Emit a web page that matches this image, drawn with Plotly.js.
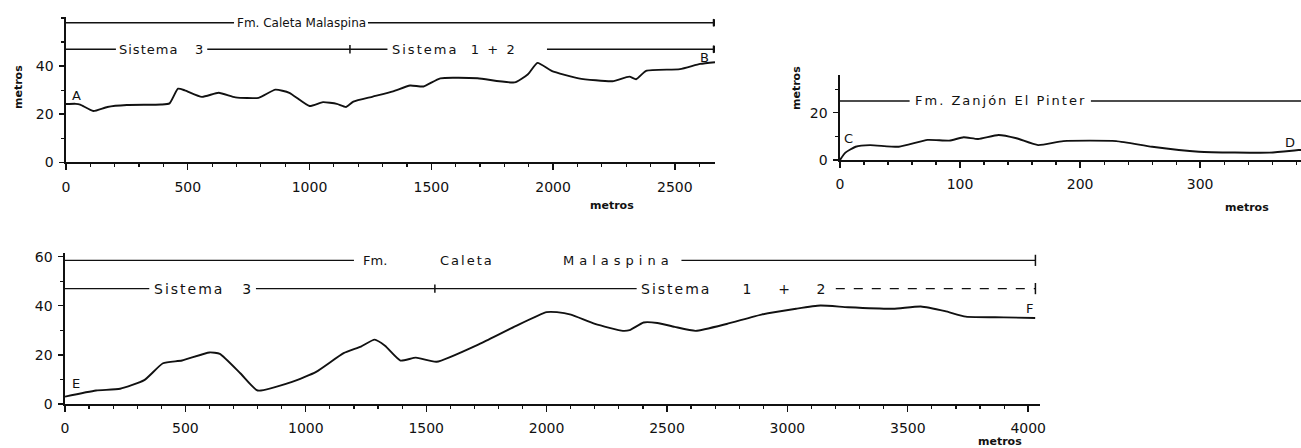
<!DOCTYPE html>
<html>
<head>
<meta charset="utf-8">
<script src="https://cdn.plot.ly/plotly-3.0.1.min.js"></script>
<style>
  html, body { margin: 0; padding: 0; background: #fff; }
  #chart { width: 1301px; height: 448px; }
</style>
</head>
<body>
<div id="chart"></div>
<script>
// ---------- Profile A-B (Fm. Caleta Malaspina) ----------
const abX = [0, 40, 58, 112, 170, 250, 390, 425, 460, 488, 558, 627, 696, 791, 860, 917, 1000, 1055, 1112, 1150, 1180, 1260, 1343, 1413, 1468, 1537, 1690, 1842, 1897, 1936, 1994, 2105, 2244, 2313, 2341, 2382, 2521, 2604, 2665];
const abY = [24.2, 24.3, 24, 21.3, 23, 23.8, 24, 24.5, 30.6, 29.9, 27.2, 28.9, 27, 26.8, 30.2, 28.9, 23.4, 25, 24.3, 23, 25.2, 27.3, 29.5, 31.9, 31.5, 34.9, 34.9, 33.2, 36.6, 41.3, 38, 34.9, 33.7, 35.6, 34.5, 38, 38.7, 40.9, 41.6];
const abFmLevel = 58;
const abFmX = [0, 690, null, 1240, 2665];
const abSisLevel = 47;
const abSisX = [0, 205, null, 580, 1320, null, 1975, 2665];
const abSisBoundary = 1166;
const abXTicks = [0, 500, 1000, 1500, 2000, 2500];
const abYTicks = [0, 20, 40];

// ---------- Profile C-D (Fm. Zanjón El Pinter) ----------
const cdX = [0, 4.5, 13, 25, 49, 73, 91, 103, 115, 132, 147, 165, 186, 230, 260, 299, 358, 382, 386];
const cdY = [0, 3.1, 5.6, 6.3, 5.6, 8.5, 8.2, 9.6, 8.9, 10.6, 9.2, 6.3, 8, 8, 5.6, 3.5, 3.1, 4.2, 4.3];
const cdFmLevel = 25;
const cdFmX = [0, 58, null, 209, 386];
const cdXTicks = [0, 100, 200, 300];
const cdYTicks = [0, 20];

// ---------- Profile E-F (Fm. Caleta Malaspina) ----------
const efX = [0, 129, 229, 329, 407, 486, 600, 643, 729, 800, 943, 1043, 1157, 1229, 1286, 1329, 1393, 1457, 1543, 1729, 1871, 2000, 2043, 2101, 2201, 2317, 2345, 2403, 2460, 2532, 2619, 2748, 2892, 3036, 3137, 3252, 3439, 3554, 3655, 3741, 3899, 4029];
const efY = [3, 5.5, 6.2, 9.7, 16.6, 17.7, 21, 20.4, 12.4, 5.5, 9, 13.1, 20.7, 23.4, 26.2, 23.7, 17.7, 18.9, 17.2, 24.8, 31.7, 37.4, 37.4, 36.4, 32.6, 29.8, 30.1, 33.2, 33, 31.4, 29.8, 32.6, 36.4, 38.8, 40.1, 39.4, 38.8, 39.7, 37.8, 35.6, 35.3, 35];
const efFmLevel = 58.5;
const efFmX = [0, 1200, null, 2560, 4030];
const efSisLevel = 47;
const efSisX = [0, 350, null, 793, 2374];
const efSisDashX = [3201, 4030];
const efSisBoundary = 1536;
const efXTicks = [0, 500, 1000, 1500, 2000, 2500, 3000, 3500, 4000];
const efYTicks = [0, 20, 40, 60];

const INK = '#111111';
const FONT = 'DejaVu Sans, Liberation Sans, sans-serif';

function level(xs, lv) { return xs.map(v => v === null ? null : lv); }

function bandTrace(xs, lv, xa, ya, dash) {
  return { x: xs, y: level(xs, lv), xaxis: xa, yaxis: ya, mode: 'lines',
           line: { color: INK, width: 1.4, dash: dash || 'solid' }, hoverinfo: 'skip', showlegend: false };
}
function profileTrace(xs, ys, xa, ya) {
  return { x: xs, y: ys, xaxis: xa, yaxis: ya, mode: 'lines',
           line: { color: INK, width: 1.9, shape: 'spline', smoothing: 0.5 }, hoverinfo: 'skip', showlegend: false };
}
function markTrace(xs, ys, xa, ya, symbol, size) {
  return { x: xs, y: ys, xaxis: xa, yaxis: ya, mode: 'markers',
           marker: { symbol: symbol, size: size, color: INK, line: { color: INK, width: 1.5 } },
           hoverinfo: 'skip', showlegend: false };
}

const traces = [
  profileTrace(abX, abY, 'x', 'y'),
  bandTrace(abFmX, abFmLevel, 'x', 'y'),
  bandTrace(abSisX, abSisLevel, 'x', 'y'),
  markTrace([abSisBoundary], [abSisLevel], 'x', 'y', 'line-ns', 6),
  markTrace([abFmX[abFmX.length - 1], abSisX[abSisX.length - 1]], [abFmLevel, abSisLevel], 'x', 'y', 'triangle-right', 6),

  profileTrace(cdX, cdY, 'x2', 'y2'),
  bandTrace(cdFmX, cdFmLevel, 'x2', 'y2'),

  profileTrace(efX, efY, 'x3', 'y3'),
  bandTrace(efFmX, efFmLevel, 'x3', 'y3'),
  bandTrace(efSisX, efSisLevel, 'x3', 'y3'),
  bandTrace(efSisDashX, efSisLevel, 'x3', 'y3', 'dash'),
  markTrace([efSisBoundary], [efSisLevel], 'x3', 'y3', 'line-ns', 6),
  markTrace([efFmX[efFmX.length - 1], efSisDashX[1]], [efFmLevel, efSisLevel], 'x3', 'y3', 'line-ns', 8)
];

function xAxis(domain, range, ticks, minor, anchor) {
  return { domain: domain, range: range, tickvals: ticks, ticks: 'outside', ticklen: 6, tickwidth: 1.4,
           tickcolor: INK, showline: true, linecolor: INK, linewidth: 1.6, zeroline: false, showgrid: false,
           ticklabelstandoff: 5, tickfont: { family: FONT, size: 14, color: INK }, anchor: anchor,
           minor: { dtick: minor, tick0: 0, ticks: 'outside', ticklen: 3, tickwidth: 1.2, tickcolor: INK },
           fixedrange: true };
}
function yAxis(domain, range, ticks, anchor) {
  return { domain: domain, range: range, tickvals: ticks, ticks: 'outside', ticklen: 5, tickwidth: 1.4,
           tickcolor: INK, showline: true, linecolor: INK, linewidth: 1.6, zeroline: false, showgrid: false,
           ticklabelstandoff: 3, tickfont: { family: FONT, size: 14, color: INK }, anchor: anchor,
           minor: { dtick: 10, tick0: 0, ticks: 'outside', ticklen: 3, tickwidth: 1.2, tickcolor: INK },
           fixedrange: true };
}

function dataText(text, x, y, xa, ya, size, extra) {
  return Object.assign({ text: text, x: x, y: y, xref: xa, yref: ya, showarrow: false,
           font: { family: FONT, size: size, color: INK }, xanchor: 'center', yanchor: 'middle' }, extra || {});
}
function paperText(text, px, py, size, angle) {
  return { text: text, x: px / 1301, y: 1 - py / 448, xref: 'paper', yref: 'paper', showarrow: false,
           font: { family: FONT, size: size, color: INK }, xanchor: 'center', yanchor: 'middle', textangle: angle || 0 };
}
const sp = '\u00a0';
function gap(n) { return sp.repeat(n); }
function ls(t, px) { return '<span style="letter-spacing:' + px + 'px">' + t + '</span>'; }

const annotations = [
  // A-B
  dataText('Fm. Caleta Malaspina', 965, abFmLevel, 'x', 'y', 12),
  dataText(ls('Sistema', 1) + gap(4) + '3', 392, abSisLevel, 'x', 'y', 13),
  dataText(ls('Sistema', 2) + gap(3) + '1' + gap(2) + '+' + gap(2) + '2', 1590, abSisLevel, 'x', 'y', 13),
  dataText('A', 45, 27.8, 'x', 'y', 13),
  dataText('B', 2622, 43.5, 'x', 'y', 13),
  paperText('<b>metros</b>', 18, 87, 11, -90),
  paperText('<b>metros</b>', 612, 205, 11),
  // C-D
  dataText(ls('Fm. Zanjón El Pinter', 2), 134, cdFmLevel, 'x2', 'y2', 13),
  dataText('C', 7, 9.2, 'x2', 'y2', 13),
  dataText('D', 375, 7.5, 'x2', 'y2', 13),
  paperText('<b>metros</b>', 797, 88, 11, -90),
  paperText('<b>metros</b>', 1247, 207, 11),
  // E-F
  dataText('Fm.', 1286, efFmLevel, 'x3', 'y3', 13),
  dataText(ls('Caleta', 2), 1671, efFmLevel, 'x3', 'y3', 13),
  dataText(ls('Malaspina', 5), 2300, efFmLevel, 'x3', 'y3', 13),
  dataText(ls('Sistema', 2) + gap(4) + '3', 571, efSisLevel, 'x3', 'y3', 14),
  dataText(ls('Sistema', 2) + gap(7) + '1' + gap(6) + '+' + gap(6) + '2', 2778, efSisLevel, 'x3', 'y3', 14),
  dataText('E', 46, 8.3, 'x3', 'y3', 13),
  dataText('F', 4005, 39, 'x3', 'y3', 13),
  paperText('<b>metros</b>', 1000, 441, 11)
];

const layout = {
  width: 1301, height: 448, autosize: false,
  margin: { l: 0, r: 0, t: 0, b: 0 },
  paper_bgcolor: '#fff', plot_bgcolor: 'rgba(0,0,0,0)',
  showlegend: false, hovermode: false,
  xaxis: xAxis([66 / 1301, 715 / 1301], [0, 2665], abXTicks, 100, 'y'),
  yaxis: yAxis([0.6377, 0.9627], [0, 60.5], abYTicks, 'x'),
  xaxis2: xAxis([840 / 1301, 1.0], [0, 384], cdXTicks, 20, 'y2'),
  yaxis2: yAxis([0.6429, 0.8326], [0, 36], cdYTicks, 'x2'),
  xaxis3: xAxis([65 / 1301, 1040 / 1301], [0, 4049], efXTicks, 100, 'y3'),
  yaxis3: yAxis([0.0982, 0.4353], [0, 61.5], efYTicks, 'x3'),
  annotations: annotations
};

Plotly.newPlot('chart', traces, layout, { displayModeBar: false, staticPlot: true });
</script>
</body>
</html>
